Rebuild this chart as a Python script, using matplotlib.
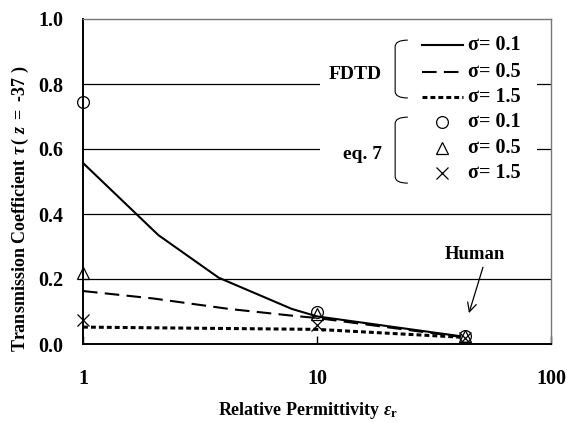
import matplotlib
matplotlib.use("Agg")
import matplotlib.pyplot as plt
from matplotlib.path import Path
from matplotlib.patches import PathPatch, Rectangle
from matplotlib.lines import Line2D

plt.rcParams['font.family'] = ['Liberation Serif', 'DejaVu Serif']
plt.rcParams['font.weight'] = 'bold'
plt.rcParams['mathtext.fontset'] = 'custom'
plt.rcParams['mathtext.rm'] = 'Liberation Serif'
plt.rcParams['mathtext.it'] = 'Liberation Serif:italic'
plt.rcParams['mathtext.bf'] = 'Liberation Serif:bold'
plt.rcParams['mathtext.bfit'] = 'Liberation Serif:italic:bold'

# FDTD curves
eps_s01 = [1, 2.1, 3.8, 7.8, 10, 41]
fdtd_s01 = [0.557, 0.335, 0.204, 0.108, 0.085, 0.024]
eps_s05 = [1, 2, 4.2, 8.1, 10, 41]
fdtd_s05 = [0.163, 0.140, 0.108, 0.086, 0.080, 0.022]
eps_s15 = [1, 10, 41]
fdtd_s15 = [0.052, 0.045, 0.021]

# eq. 7 points
eps_eq = [1, 10, 43]
eq_s01 = [0.745, 0.100, 0.026]
eq_s05 = [0.218, 0.092, 0.024]
eq_s15 = [0.074, 0.058, 0.020]

yticks = [0.0, 0.2, 0.4, 0.6, 0.8, 1.0]
ytick_labels = ["0.0", "0.2", "0.4", "0.6", "0.8", "1.0"]
xticks = [1, 10, 100]
xtick_labels = ["1", "10", "100"]
legend_labels = ["\u03c3= 0.1", "\u03c3= 0.5", "\u03c3= 1.5"]

fig = plt.figure(figsize=(5.67, 4.23), dpi=100)
ax = fig.add_axes([83/567, 79/423, 468/567, 325/423])
ax.set_xscale('log')
ax.set_xlim(1, 100)
ax.set_ylim(0, 1.0)

for y in yticks[1:-1]:
    ax.axhline(y, color='black', lw=0.9, zorder=1)

ax.set_yticks(yticks)
ax.set_yticklabels(ytick_labels)
ax.set_xticks(xticks)
ax.set_xticklabels(xtick_labels)
ax.xaxis.set_minor_locator(matplotlib.ticker.NullLocator())
ax.tick_params(axis='y', length=0, pad=14, labelsize=14.5)
ax.tick_params(axis='x', direction='in', length=6, width=1, pad=18, labelsize=14.5)
for lab in ax.get_xticklabels() + ax.get_yticklabels():
    lab.set_fontweight('bold')

for s in ['left', 'bottom']:
    ax.spines[s].set_color('black')
    ax.spines[s].set_linewidth(1.4)
for s in ['top', 'right']:
    ax.spines[s].set_color('#777777')
    ax.spines[s].set_linewidth(1.0)

l1, = ax.plot(eps_s01, fdtd_s01, color='black', lw=1.5, zorder=4)
l2, = ax.plot(eps_s05, fdtd_s05, color='black', lw=1.5, zorder=4)
l2.set_dashes((7, 3.5))
l3, = ax.plot(eps_s15, fdtd_s15, color='black', lw=2.2, zorder=4)
l3.set_dashes((1.6, 1.0))

ax.plot(eps_eq, eq_s01, ls='none', marker='o', ms=8.5, mfc='none', mec='black', mew=0.9, zorder=5, clip_on=False)
ax.plot(eps_eq, eq_s05, ls='none', marker='^', ms=9, mfc='none', mec='black', mew=0.9, zorder=5, clip_on=False)
ax.plot(eps_eq, eq_s15, ls='none', marker='x', ms=8.5, mec='black', mew=0.9, zorder=5, clip_on=False)

# legend box (manual)
T = ax.transAxes
ax.add_patch(Rectangle((0.506, 0.47), 0.464, 0.525, transform=T, facecolor='white',
                       edgecolor='none', zorder=3))
ax.text(0.639, 0.828, "FDTD", transform=T, ha='right', va='center', fontsize=14, fontweight='bold', zorder=6)
ax.text(0.639, 0.582, "eq. 7", transform=T, ha='right', va='center', fontsize=14, fontweight='bold', zorder=6)

def brace(x_l, x_r, y_top, y_bot, r):
    verts = [(x_r, y_top), (x_l, y_top), (x_l, y_top - r), (x_l, y_bot + r), (x_l, y_bot), (x_r, y_bot)]
    codes = [Path.MOVETO, Path.CURVE3, Path.CURVE3, Path.LINETO, Path.CURVE3, Path.CURVE3]
    ax.add_patch(PathPatch(Path(verts, codes), transform=T, facecolor='none', edgecolor='black',
                           lw=0.8, zorder=6))

brace(0.667, 0.694, 0.935, 0.757, 0.02)
brace(0.667, 0.694, 0.698, 0.495, 0.02)

line_y = [0.92, 0.837, 0.76]
styles = [dict(lw=1.5), dict(lw=1.5, dashes=(7, 3.5)), dict(lw=2.2, dashes=(1.6, 1.0))]
for yy, st, lab in zip(line_y, styles, legend_labels):
    ax.add_line(Line2D([0.724, 0.812], [yy, yy], transform=T, color='black', zorder=6, **st))
    ax.text(0.823, yy, lab, transform=T, ha='left', va='center', fontsize=14.5, fontweight='bold', zorder=6)

mark_y = [0.683, 0.603, 0.526]
mstyles = [dict(marker='o', ms=8.5, mfc='none'), dict(marker='^', ms=9, mfc='none'), dict(marker='x', ms=8.5)]
for yy, st, lab in zip(mark_y, mstyles, legend_labels):
    ax.add_line(Line2D([0.767], [yy], transform=T, ls='none', mec='black', mew=0.9, zorder=6, **st))
    ax.text(0.823, yy, lab, transform=T, ha='left', va='center', fontsize=14.5, fontweight='bold', zorder=6)

ax.text(47.3, 0.274, "Human", ha='center', va='center', fontsize=13.5, fontweight='bold', zorder=6)
ax.annotate("", xy=(44.6, 0.095), xytext=(51.2, 0.236),
            arrowprops=dict(arrowstyle='->', color='black', lw=0.9, shrinkA=0, shrinkB=0,
                            mutation_scale=16))

fig.text(20/567, 0.506,
         "$\\mathbf{Transmission\\ Coefficient}\\ \\mathbfit{\u03c4}\\,(\\ \\mathit{z}\\ =\\ \u201037\\ )$",
         rotation=90, ha='center', va='center', fontsize=13)
fig.text(308/567, 1 - 410/423,
         "$\\mathbf{Relative\\ Permittivity}\\ \\mathbfit{\u03b5}_\\mathbf{r}$",
         ha='center', va='center', fontsize=13)

fig.savefig("out.png", dpi=100)
